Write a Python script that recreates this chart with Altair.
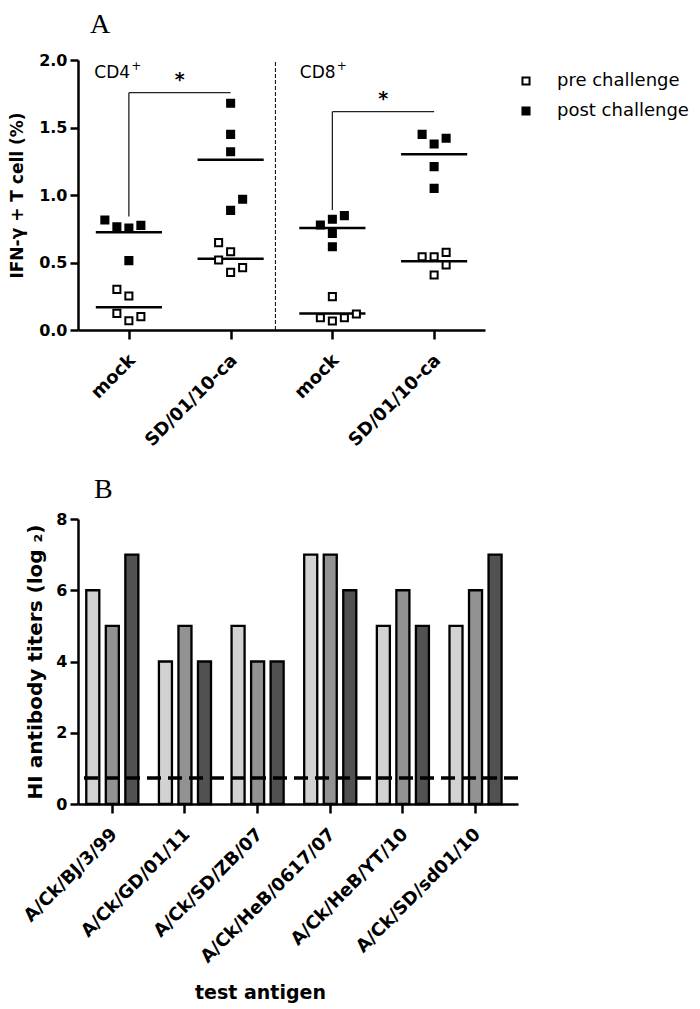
import altair as alt
import pandas as pd

# ---------------- Panel A data ----------------
groups_A = ["mock", "SD/01/10-ca", "mock", "SD/01/10-ca"]
cell_types = ["CD4", "CD4", "CD8", "CD8"]
phases = ["pre challenge", "post challenge"]

pre_vals = [
    [0.301, 0.252, 0.123, 0.069, 0.099],
    [0.647, 0.580, 0.519, 0.427, 0.462],
    [0.247, 0.091, 0.067, 0.091, 0.119],
    [0.543, 0.543, 0.575, 0.481, 0.407],
]
pre_slots = [
    [-1, 0, -1, 0, 1],
    [-1, 0, -1, 0, 1],
    [0, -1, 0, 1, 2],
    [-1, 0, 1, 1, 0],
]
post_vals = [
    [0.815, 0.765, 0.756, 0.775, 0.514],
    [1.679, 1.449, 1.321, 0.968, 0.886],
    [0.778, 0.820, 0.847, 0.716, 0.617],
    [1.449, 1.378, 1.420, 1.210, 1.049],
]
post_slots = [
    [-2, -1, 0, 1, 0],
    [0, 0, 0, 1, 0],
    [-1, 0, 1, 0, 0],
    [-1, 0, 1, 0, 0],
]

bracket_left = [0, 2]
bracket_right = [1, 3]
bracket_top = [1.758, 1.617]
bracket_bottom = [0.84, 0.889]
bracket_marks = ["*", "*"]

cell_label_text = ["CD4", "CD8"]
cell_label_sup = ["+", "+"]
cell_label_x = [-0.34, 1.68]
cell_label_y = [1.87, 1.87]
divider_x = [1.44]

# ---------------- Panel B data ----------------
antigens = ["A/Ck/BJ/3/99", "A/Ck/GD/01/11", "A/Ck/SD/ZB/07",
            "A/Ck/HeB/0617/07", "A/Ck/HeB/YT/10", "A/Ck/SD/sd01/10"]
series_B = ["serum 1", "serum 2", "serum 3"]
titers = [[6, 5, 7], [4, 5, 4], [5, 4, 4], [7, 7, 6], [5, 6, 5], [5, 6, 7]]
cutoff = [0.73]

# ---------------- Tables ----------------
rows = []
for g in range(len(groups_A)):
    for v, s in zip(pre_vals[g], pre_slots[g]):
        rows.append({"g": g, "group": groups_A[g], "cell": cell_types[g],
                     "phase": phases[0], "value": v, "slot": s})
    for v, s in zip(post_vals[g], post_slots[g]):
        rows.append({"g": g, "group": groups_A[g], "cell": cell_types[g],
                     "phase": phases[1], "value": v, "slot": s})
dfA = pd.DataFrame(rows)

dfBr = pd.DataFrame({"left": bracket_left, "right": bracket_right,
                     "top": bracket_top, "bottom": bracket_bottom,
                     "mark": bracket_marks})
dfCell = pd.DataFrame({"text": cell_label_text, "sup": cell_label_sup,
                       "x": cell_label_x, "y": cell_label_y})
dfDiv = pd.DataFrame({"x": divider_x})

rowsB = []
for i, a in enumerate(antigens):
    for j, s in enumerate(series_B):
        rowsB.append({"antigen": a, "series": s, "titer": titers[i][j]})
dfB = pd.DataFrame(rowsB)
dfCut = pd.DataFrame({"cutoff": cutoff})

FONT = "DejaVu Sans"
SLOT = 0.118      # horizontal jitter step (category units)
HALF = 0.325      # half width of mean line (category units)

xscaleA = alt.Scale(domain=[-0.5, 3.5], nice=False, zero=False)
yscaleA = alt.Scale(domain=[0, 2], nice=False)
label_expr = "[" + ",".join("'" + g + "'" for g in groups_A) + "][datum.value]"
xaxisA = alt.Axis(values=[0, 1, 2, 3], labelExpr=label_expr, labelAngle=-45,
                  labelFontSize=18, labelPadding=12, labelOffset=-3, title=None, tickSize=9)
yaxisA = alt.Axis(values=[0, 0.5, 1.0, 1.5, 2.0], format=".1f", labelFontSize=16,
                  title="IFN-\u03b3 + T cell (%)", titleFontSize=17,
                  titlePadding=12, tickSize=8, labelPadding=3)


def xA(field):
    return alt.X(field, type="quantitative", scale=xscaleA, axis=xaxisA)


def yA(field):
    return alt.Y(field, type="quantitative", scale=yscaleA, axis=yaxisA)


divider = alt.Chart(dfDiv).mark_rule(color="black", strokeWidth=1, strokeDash=[4, 2]).encode(
    x=xA("x"), y=alt.datum(0, scale=yscaleA), y2=alt.datum(2))

br_v = alt.Chart(dfBr).mark_rule(color="#222222", strokeWidth=1.3).encode(
    x=xA("left"), y=yA("bottom"), y2="top")
br_h = alt.Chart(dfBr).mark_rule(color="#222222", strokeWidth=1.3).encode(
    x=xA("left"), x2="right", y=yA("top"))
br_t = alt.Chart(dfBr).transform_calculate(mid="(datum.left + datum.right) / 2").mark_text(
    font=FONT, fontSize=19, fontWeight="bold", baseline="alphabetic", dy=-7, color="black"
).encode(x=xA("mid"), y=yA("top"), text="mark:N")

cell_txt = alt.Chart(dfCell).mark_text(
    font=FONT, fontSize=17, align="left", baseline="alphabetic", color="black"
).encode(x=xA("x"), y=yA("y"), text="text:N")
cell_sup = alt.Chart(dfCell).mark_text(
    font=FONT, fontSize=12, align="left", baseline="alphabetic", dx=37, dy=-8, color="black"
).encode(x=xA("x"), y=yA("y"), text="sup:N")

means = alt.Chart(dfA).transform_aggregate(
    mean="mean(value)", groupby=["g", "phase"]
).transform_calculate(
    x1=f"datum.g - {HALF}", x2=f"datum.g + {HALF}"
).mark_rule(color="black", strokeWidth=2.5).encode(
    x=xA("x1"), x2="x2", y=yA("mean"))

points = alt.Chart(dfA).transform_calculate(
    xpos=f"datum.g + datum.slot * {SLOT}"
).mark_square(size=50, stroke="black", strokeWidth=2, opacity=1).encode(
    x=xA("xpos"), y=yA("value"),
    fill=alt.Fill("phase:N", scale=alt.Scale(domain=phases, range=["white", "black"]),
                  legend=alt.Legend(title=None, orient="none", legendX=439, legendY=12,
                                    symbolType="square", symbolSize=50,
                                    symbolStrokeColor="black", symbolStrokeWidth=2,
                                    labelFont=FONT, labelFontSize=18, labelFontWeight="normal",
                                    labelColor="black", labelOffset=22, rowPadding=12,
                                    symbolOpacity=1)),
)

panelA = alt.layer(divider, br_v, br_h, br_t, cell_txt, cell_sup, means, points).properties(
    width=407, height=270,
    title=alt.TitleParams("A", font="Liberation Serif", fontSize=28, fontWeight="normal",
                          anchor="start", frame="group", dx=12, offset=13, baseline="top",
                          color="black"),
)

# ---------------- Panel B ----------------
bars = alt.Chart(dfB).mark_bar(stroke="black", strokeWidth=2.3).encode(
    x=alt.X("antigen:N", sort=antigens,
            scale=alt.Scale(paddingInner=0.283, paddingOuter=0.17, align=0.335),
            axis=alt.Axis(labelAngle=-45, labelFontSize=18, labelPadding=12, labelOffset=-4,
                          tickSize=9, labelLimit=0, title="test antigen", titleFontSize=19,
                          titlePadding=17, titleX=182, titleAlign="center")),
    xOffset=alt.XOffset("series:N", sort=series_B,
                        scale=alt.Scale(paddingInner=0.333, paddingOuter=0)),
    y=alt.Y("titer:Q", scale=alt.Scale(domain=[0, 8], nice=False),
            axis=alt.Axis(values=[0, 2, 4, 6, 8], format="d", labelFontSize=16,
                          title="HI antibody titers (log \u2082)", titleFontSize=20,
                          titlePadding=10, tickSize=8, labelPadding=3)),
    fill=alt.Fill("series:N", scale=alt.Scale(domain=series_B,
                                             range=["#d2d2d2", "#929292", "#515151"]),
                  legend=None),
)
cut = alt.Chart(dfCut).mark_rule(color="black", strokeWidth=3.5, strokeDash=[14, 7]).encode(
    y=alt.Y("cutoff:Q"))

panelB = alt.layer(bars, cut).properties(
    width=440, height=285,
    title=alt.TitleParams("B", font="Liberation Serif", fontSize=28, fontWeight="normal",
                          anchor="start", frame="group", dx=16, offset=7, color="black"),
)

chart = alt.vconcat(panelA, panelB, spacing=26).resolve_scale(
    fill="independent"
).properties(
    padding={"left": 0, "top": 3, "right": 0, "bottom": 0}
).configure_view(stroke=None).configure_axis(
    domainColor="black", domainWidth=2.5, tickColor="black", tickWidth=2.5,
    labelFont=FONT, labelFontWeight="bold", labelColor="black",
    titleFont=FONT, titleFontWeight="bold", titleColor="black", grid=False,
).configure_legend(padding=0)

chart.save("out.html", embed_options={"renderer": "svg", "actions": False})
